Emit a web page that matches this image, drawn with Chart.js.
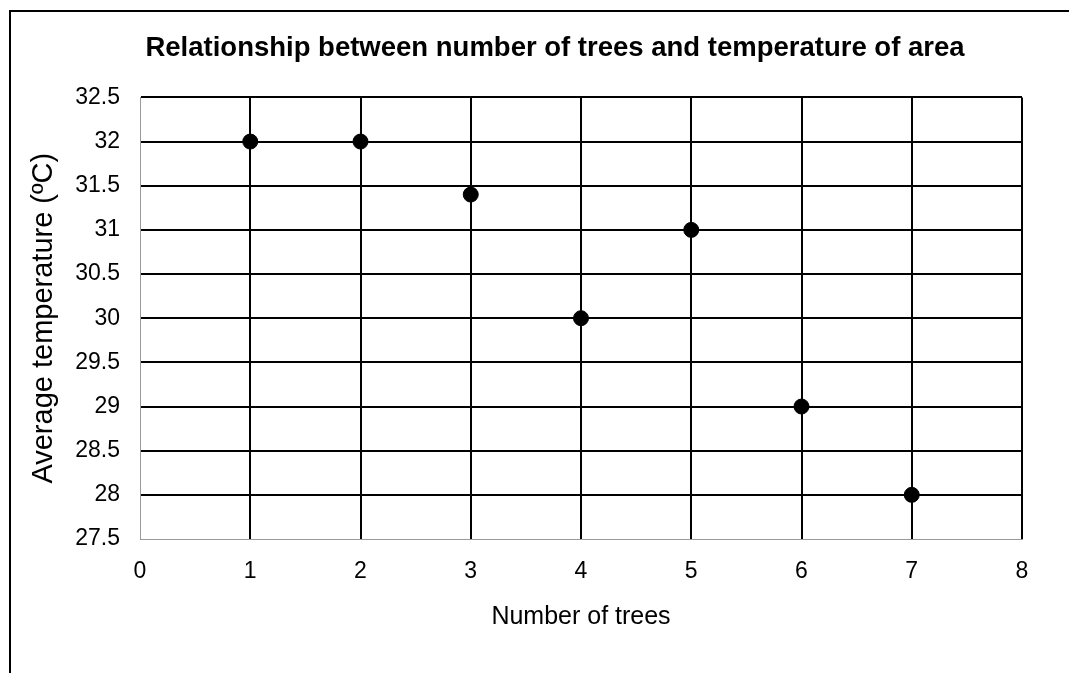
<!DOCTYPE html>
<html>
<head>
<meta charset="utf-8">
<title>Trees and temperature</title>
<script src="https://cdn.jsdelivr.net/npm/chart.js@4/dist/chart.umd.min.js"></script>
<style>
  html, body { margin: 0; padding: 0; background: #fff; }
  #wrap { width: 1069px; height: 673px; }
</style>
</head>
<body>
<div id="wrap"><canvas id="chart"></canvas></div>
<script>
const trees = [1, 2, 3, 4, 5, 6, 7];
const temps = [32, 32, 31.4, 30, 31, 29, 28];
const xTicks = [0, 1, 2, 3, 4, 5, 6, 7, 8];
const yTicks = [27.5, 28, 28.5, 29, 29.5, 30, 30.5, 31, 31.5, 32, 32.5];

const FONT = "'Liberation Sans', Arial, sans-serif";

// outer frame round the whole picture
const frame = {
  id: 'frame',
  beforeDraw(chart) {
    const ctx = chart.ctx;
    ctx.save();
    ctx.fillStyle = '#fff';
    ctx.fillRect(0, 0, chart.width, chart.height);
    ctx.strokeStyle = '#000';
    ctx.lineWidth = 2;
    ctx.strokeRect(10, 11, 1100, 700);
    ctx.restore();
  }
};

new Chart(document.getElementById('chart'), {
  type: 'scatter',
  data: {
    datasets: [{
      data: trees.map((t, i) => ({ x: t, y: temps[i] })),
      backgroundColor: '#000',
      borderColor: '#000',
      pointRadius: 7.5,
      pointHoverRadius: 7.5
    }]
  },
  options: {
    responsive: true,
    maintainAspectRatio: false,
    animation: false,
    events: [],
    // negative right padding pushes the title centre to the right like the original
    layout: { padding: { left: 0, right: -41, top: 0, bottom: 0 } },
    plugins: {
      legend: { display: false },
      tooltip: { enabled: false },
      title: {
        display: true,
        text: 'Relationship between number of trees and temperature of area',
        color: '#000',
        font: { family: FONT, size: 27.5, weight: 'bold' },
        padding: { top: 32, bottom: 32.4 }
      }
    },
    scales: {
      x: {
        type: 'linear',
        min: 0,
        max: 8,
        afterBuildTicks: s => { s.ticks = xTicks.map(v => ({ value: v })); },
        afterFit: s => { s.height = 134; },
        grid: {
          drawTicks: false,
          lineWidth: 2,
          color: c => c.tick && c.tick.value === 0 ? 'rgba(0,0,0,0)' : '#000'
        },
        border: { display: true, color: '#999', width: 1 },
        ticks: {
          padding: 19,
          color: '#000',
          font: { family: FONT, size: 23 },
          callback: v => String(v)
        },
        title: {
          display: true,
          text: 'Number of trees',
          color: '#000',
          font: { family: FONT, size: 25 },
          padding: { top: 0, bottom: 41 }
        }
      },
      y: {
        type: 'linear',
        min: 27.5,
        max: 32.5,
        afterBuildTicks: s => { s.ticks = yTicks.map(v => ({ value: v })); },
        afterFit: s => { s.width = 140; },
        grid: {
          drawTicks: false,
          lineWidth: 2,
          color: c => c.tick && c.tick.value === 27.5 ? 'rgba(0,0,0,0)' : '#000'
        },
        border: { display: true, color: '#999', width: 1 },
        ticks: {
          padding: 20,
          color: '#000',
          font: { family: FONT, size: 23 },
          callback: v => String(v)
        },
        title: {
          display: true,
          text: 'Average temperature (ºC)',
          color: '#000',
          font: { family: FONT, size: 29 },
          padding: { top: 27, bottom: 0 }
        }
      },
      yRight: {
        type: 'linear',
        position: 'right',
        min: 27.5,
        max: 32.5,
        afterFit: s => { s.width = 88; },
        grid: { display: false },
        border: { display: false },
        ticks: { display: false }
      }
    }
  },
  plugins: [frame]
});
</script>
</body>
</html>
